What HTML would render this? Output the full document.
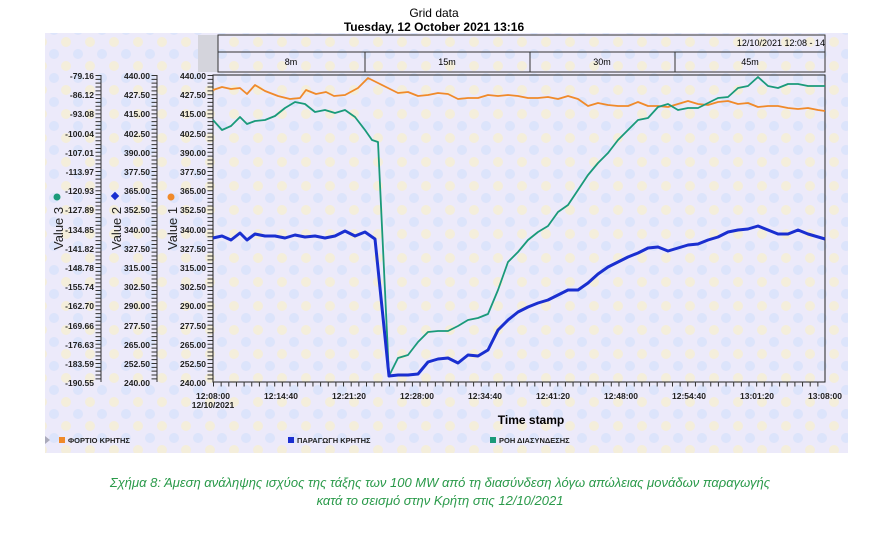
<!DOCTYPE html>
<html><head><meta charset="utf-8"><style>
body{margin:0;width:869px;height:540px;background:#fff;overflow:hidden;font-family:"Liberation Sans",sans-serif}
svg{position:absolute;left:0;top:0}
</style></head><body>
<svg width="869" height="540" viewBox="0 0 869 540" font-family="Liberation Sans, sans-serif">
<defs>
<pattern id="bg" width="24" height="24" patternUnits="userSpaceOnUse">
<rect width="24" height="24" fill="#eceafa"/>
<circle cx="6" cy="6" r="5" fill="#dce4fb"/>
<circle cx="18" cy="18" r="5" fill="#f4eedb"/>
</pattern>
</defs>
<rect x="45" y="33" width="803" height="420" fill="url(#bg)"/>
<text x="434" y="17" font-size="12" text-anchor="middle">Grid data</text>
<text x="434" y="31" font-size="12" font-weight="bold" text-anchor="middle">Tuesday, 12 October 2021 13:16</text>
<rect x="198" y="35" width="20" height="37" fill="#d4d4dc"/>
<rect x="218" y="35" width="607" height="37" fill="none" stroke="#333" stroke-width="1"/>
<line x1="218" y1="52" x2="825" y2="52" stroke="#333"/>
<line x1="365" y1="52" x2="365" y2="72" stroke="#333"/>
<line x1="530" y1="52" x2="530" y2="72" stroke="#333"/>
<line x1="675" y1="52" x2="675" y2="72" stroke="#333"/>
<text x="825" y="46" font-size="9" text-anchor="end">12/10/2021 12:08 - 14</text>
<g font-size="9" text-anchor="middle"><text x="291" y="65">8m</text><text x="447" y="65">15m</text><text x="602" y="65">30m</text><text x="750" y="65">45m</text></g>
<rect x="213" y="75" width="612" height="307" fill="none" stroke="#222"/>
<g stroke="#333" fill="none">
<line x1="101" y1="75" x2="101" y2="382"/><line x1="157" y1="75" x2="157" y2="382"/>
<line x1="98" y1="75" x2="98" y2="382" stroke-width="5" stroke-dasharray="1 2.84"/>
<line x1="154" y1="75" x2="154" y2="382" stroke-width="5" stroke-dasharray="1 2.84"/>
<line x1="210" y1="75" x2="210" y2="382" stroke-width="5" stroke-dasharray="1 2.84"/>
<line x1="213" y1="384" x2="825" y2="384" stroke-width="5" stroke-dasharray="1 6.65"/>
</g>
<g font-size="8.5" font-weight="bold" text-anchor="end" fill="#222">
<text x="94" y="79">-79.16</text><text x="94" y="98">-86.12</text><text x="94" y="117">-93.08</text><text x="94" y="137">-100.04</text><text x="94" y="156">-107.01</text><text x="94" y="175">-113.97</text><text x="94" y="194">-120.93</text><text x="94" y="213">-127.89</text><text x="94" y="233">-134.85</text><text x="94" y="252">-141.82</text><text x="94" y="271">-148.78</text><text x="94" y="290">-155.74</text><text x="94" y="309">-162.70</text><text x="94" y="329">-169.66</text><text x="94" y="348">-176.63</text><text x="94" y="367">-183.59</text><text x="94" y="386">-190.55</text>
</g>
<g font-size="8.5" font-weight="bold" text-anchor="end" fill="#222">
<text x="150" y="79">440.00</text><text x="150" y="98">427.50</text><text x="150" y="117">415.00</text><text x="150" y="137">402.50</text><text x="150" y="156">390.00</text><text x="150" y="175">377.50</text><text x="150" y="194">365.00</text><text x="150" y="213">352.50</text><text x="150" y="233">340.00</text><text x="150" y="252">327.50</text><text x="150" y="271">315.00</text><text x="150" y="290">302.50</text><text x="150" y="309">290.00</text><text x="150" y="329">277.50</text><text x="150" y="348">265.00</text><text x="150" y="367">252.50</text><text x="150" y="386">240.00</text>
</g>
<g font-size="8.5" font-weight="bold" text-anchor="end" fill="#222">
<text x="206" y="79">440.00</text><text x="206" y="98">427.50</text><text x="206" y="117">415.00</text><text x="206" y="137">402.50</text><text x="206" y="156">390.00</text><text x="206" y="175">377.50</text><text x="206" y="194">365.00</text><text x="206" y="213">352.50</text><text x="206" y="233">340.00</text><text x="206" y="252">327.50</text><text x="206" y="271">315.00</text><text x="206" y="290">302.50</text><text x="206" y="309">290.00</text><text x="206" y="329">277.50</text><text x="206" y="348">265.00</text><text x="206" y="367">252.50</text><text x="206" y="386">240.00</text>
</g>
<g font-size="13" fill="#222">
<text transform="translate(63,250) rotate(-90)">Value 3</text>
<text transform="translate(121,250) rotate(-90)">Value 2</text>
<text transform="translate(177,250) rotate(-90)">Value 1</text>
</g>
<circle cx="57" cy="197" r="3.5" fill="#1a9a7a"/>
<rect x="112" y="193" width="6" height="6" fill="#1a2fd0" transform="rotate(45 115 196)"/>
<circle cx="171" cy="197" r="3.5" fill="#f08a2a"/>
<g font-size="8.5" font-weight="bold" text-anchor="middle" fill="#222">
<text x="213" y="399">12:08:00</text><text x="213" y="408">12/10/2021</text>
<text x="281" y="399">12:14:40</text><text x="349" y="399">12:21:20</text><text x="417" y="399">12:28:00</text><text x="485" y="399">12:34:40</text><text x="553" y="399">12:41:20</text><text x="621" y="399">12:48:00</text><text x="689" y="399">12:54:40</text><text x="757" y="399">13:01:20</text><text x="825" y="399">13:08:00</text>
</g>
<text x="531" y="424" font-size="12" font-weight="bold" text-anchor="middle">Time stamp</text>
<g font-size="7.5" font-weight="bold" fill="#222">
<rect x="59" y="437" width="6" height="6" fill="#f08a2a"/><text x="68" y="443">ΦΟΡΤΙΟ ΚΡΗΤΗΣ</text>
<rect x="288" y="437" width="6" height="6" fill="#1a2fd0"/><text x="297" y="443">ΠΑΡΑΓΩΓΗ ΚΡΗΤΗΣ</text>
<rect x="490" y="437" width="6" height="6" fill="#1a9a7a"/><text x="499" y="443">ΡΟΗ ΔΙΑΣΥΝΔΕΣΗΣ</text>
</g>
<polygon points="45,436 50,440 45,444" fill="#aab"/>
<g fill="none" stroke-linejoin="round">
<polyline stroke="#f08a2a" stroke-width="1.8" points="213,90 222,87 231,89 240,88 247,94 255,85 265,91 278,96 290,99 300,98 306,90 316,94 326,92 334,96 345,95 358,88 368,78 378,83 388,88 398,93 408,92 418,96 428,95 438,93 448,94 458,99 468,98 478,98 488,95 498,96 508,95 518,96 528,98 538,98 548,97 558,99 568,96 578,99 588,106 598,103 608,105 618,106 628,106 638,102 648,106 658,106 668,107 678,104 688,101 698,104 708,105 718,102 728,101 738,104 748,103 758,107 768,106 778,106 788,108 798,109 808,108 818,110 825,111"/>
<polyline stroke="#1a9a7a" stroke-width="1.8" points="213,120 222,130 231,126 240,117 247,124 255,121 265,120 275,116 285,108 295,102 305,104 315,112 325,110 335,113 345,110 355,117 365,130 372,140 378,142 389,376 398,358 408,355 418,342 428,332 438,331 448,331 458,326 468,320 478,318 488,314 498,290 508,262 518,252 528,240 538,232 548,226 558,212 568,205 578,190 588,175 598,163 608,153 618,140 628,130 638,120 648,118 658,107 668,104 678,110 688,108 698,108 708,103 718,98 728,97 738,88 748,86 758,77 768,86 778,88 788,84 798,84 808,86 825,86"/>
<polyline stroke="#1a2fd0" stroke-width="3" points="213,238 222,236 231,240 240,233 247,240 255,234 265,236 275,236 285,238 295,235 305,237 315,236 325,238 335,236 345,231 355,236 365,232 375,239 389,376 398,375 408,375 418,374 428,362 438,359 448,358 458,363 468,355 478,356 488,350 498,330 508,320 518,312 528,307 538,303 548,300 558,295 568,290 578,290 588,283 598,274 608,267 618,262 628,257 638,253 648,248 658,247 668,251 678,248 688,245 698,244 708,240 718,237 728,232 738,230 748,229 758,226 768,230 778,234 788,234 798,230 808,234 825,239"/>
</g>
<g font-size="13" font-style="italic" fill="#2a9a4a" text-anchor="middle">
<text x="440" y="487">Σχήμα 8: Άμεση ανάληψης ισχύος της τάξης των 100 MW από τη διασύνδεση λόγω απώλειας μονάδων παραγωγής</text>
<text x="440" y="505">κατά το σεισμό στην Κρήτη στις 12/10/2021</text>
</g>
</svg>
</body></html>
